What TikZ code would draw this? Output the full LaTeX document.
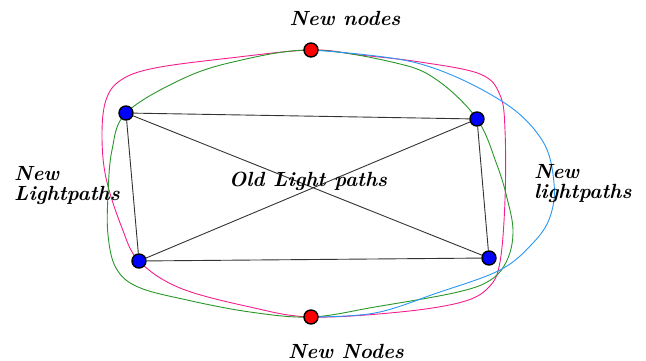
\documentclass[tikz,border=0pt]{standalone}
\usetikzlibrary{backgrounds}

\definecolor{pathpink}{RGB}{245,30,140}
\definecolor{pathgreen}{RGB}{40,150,40}
\definecolor{pathblue}{RGB}{40,150,245}

\tikzset{
    oldnode/.style={circle, draw=black, line width=1.4pt, fill=blue, minimum size=14pt, inner sep=0pt},
    newnode/.style={circle, draw=black, line width=1.4pt, fill=red, minimum size=14pt, inner sep=0pt},
    oldpath/.style={draw=black!80, line width=0.9pt},
    newpath/.style={line width=0.9pt},
    label/.style={font=\fontsize{20.5}{20}\selectfont\bfseries\itshape, align=left, inner sep=0pt}
}

\begin{document}
\begin{tikzpicture}[x=1pt, y=-1pt]
    \useasboundingbox (0,0) rectangle (646,361);

    % Old nodes
    \node[oldnode] (tl) at (126,113) {};
    \node[oldnode] (tr) at (477,119) {};
    \node[oldnode] (bl) at (139,261) {};
    \node[oldnode] (br) at (489,258) {};

    % New nodes
    \node[newnode] (top) at (311,50) {};
    \node[newnode] (bot) at (311,317) {};

    \begin{scope}[on background layer]
        % Old light paths
        \draw[oldpath] (tl) -- (tr);
        \draw[oldpath] (tl) -- (bl);
        \draw[oldpath] (tl) -- (br);
        \draw[oldpath] (tr) -- (bl);
        \draw[oldpath] (tr) -- (br);
        \draw[oldpath] (bl) -- (br);

        % New lightpath, pink
        \draw[newpath, pathpink] plot[smooth cycle, tension=0.6] coordinates {
            (top.center) (230,58) (155,68) (121,80) (106,100) (102,135) (106,178) (122,228)
            (bl.center) (180,288) (250,307) (bot.center) (400,312) (462,302)
            (489,287) (500,262) (505,200) (505,130) (500,95) (480,74) (420,62) (360,55)};

        % New lightpath, green
        \draw[newpath, pathgreen] plot[smooth cycle, tension=0.6] coordinates {
            (top.center) (233,62) (180,80) (tl.center) (112,150) (108,195) (108,235)
            (116,268) (138,287) (187,300) (250,312) (bot.center) (375,307) (458,292)
            (492,279) (508,258) (513,230) (507,198) (497,165) (tr.center) (437,80) (396,63)};

        % New lightpath, blue
        \draw[newpath, pathblue] plot[smooth, tension=0.6] coordinates {
            (top.center) (417,63) (500,100) (542,140) (554,183) (550,217) (533,243)
            (500,270) (437,293) (375,313) (bot.center)};
    \end{scope}

    % Labels
    \node[label] (newtop) at (345,18) {New nodes};
    \node[label] (newbot) at (346,351) {New Nodes};
    \node[label] (old) at (308,181) {Old Light paths};
    \node[label, anchor=west] (newleft) at (14,186) {New\\Lightpaths};
    \node[label, anchor=west] (newright) at (534,184) {New\\lightpaths};
\end{tikzpicture}
\end{document}
